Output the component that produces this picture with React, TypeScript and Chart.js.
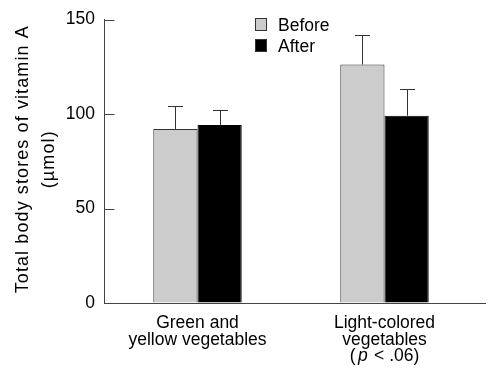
import React, { useEffect, useRef } from "react";
import { Chart, registerables } from "chart.js";

Chart.register(...registerables);

const categories: string[] = ["Green and yellow vegetables", "Light-colored vegetables"];
const labelLines: string[][] = [["Green and", "yellow vegetables"], ["Light-colored", "vegetables", "(p < .06)"]];
const seriesNames: string[] = ["Before", "After"];
const beforeValues: number[] = [92.1, 126.2];
const beforeErrors: number[] = [11.9, 15.4];
const afterValues: number[] = [94.2, 99.1];
const afterErrors: number[] = [7.7, 14.2];
const yTicks: number[] = [0, 50, 100, 150];
const yTitleLines: string[] = ["Total body stores of vitamin A", "(\u00b5mol)"];

const FONT = '"Liberation Sans", Arial, Helvetica, sans-serif';
const GRAY = "#cccccc";
const AXIS = "#444444";

const errors = [beforeErrors, afterErrors];

const customPlugin = {
  id: "custom",
  afterDatasetsDraw(chart: any) {
    const ctx: CanvasRenderingContext2D = chart.ctx;
    const y = chart.scales.y;
    const x = chart.scales.x;
    const area = chart.chartArea;
    ctx.save();
    // error bars
    ctx.strokeStyle = "#333333";
    ctx.lineWidth = 1;
    chart.data.datasets.forEach((ds: any, di: number) => {
      const meta = chart.getDatasetMeta(di);
      meta.data.forEach((el: any, i: number) => {
        const v = ds.data[i];
        const top = y.getPixelForValue(v + errors[di][i]);
        const cx = Math.round(el.x) + 0.5;
        ctx.beginPath();
        ctx.moveTo(cx, el.y);
        ctx.lineTo(cx, Math.round(top) + 0.5);
        ctx.moveTo(cx - 7.5, Math.round(top) + 0.5);
        ctx.lineTo(cx + 7.5, Math.round(top) + 0.5);
        ctx.stroke();
      });
    });
    // x axis line
    ctx.strokeStyle = AXIS;
    const by = Math.round(area.bottom) + 0.5;
    ctx.beginPath();
    ctx.moveTo(area.left, by);
    ctx.lineTo(area.right + 8, by);
    ctx.stroke();
    // inward y ticks
    const ax = Math.round(area.left) + 0.5;
    yTicks.forEach((t) => {
      const py = Math.round(y.getPixelForValue(t)) + 0.5;
      ctx.beginPath();
      ctx.moveTo(ax, py);
      ctx.lineTo(ax + 10, py);
      ctx.stroke();
    });
    // y title
    ctx.fillStyle = "#000";
    ctx.font = `18px ${FONT}`;
    (ctx as any).letterSpacing = "1.1px";
    ctx.textAlign = "center";
    ctx.textBaseline = "alphabetic";
    const cy = (area.top + area.bottom) / 2 - 2;
    const baselines = [28, 54];
    yTitleLines.forEach((line, i) => {
      ctx.save();
      ctx.translate(baselines[i], cy);
      ctx.rotate(-Math.PI / 2);
      ctx.fillText(line, 0, 0);
      ctx.restore();
    });
    (ctx as any).letterSpacing = "0px";
    // x labels
    const lineBase = [328, 344.5, 361];
    ctx.textAlign = "left";
    labelLines.forEach((lines, ci) => {
      const cx = x.getPixelForValue(ci);
      lines.forEach((line, li) => {
        const m = line.match(/^\((p)( < .*)$/);
        if (m) {
          const parts = [
            { t: "(", f: `17.5px ${FONT}`, gap: 2.5 },
            { t: "p", f: `italic 17.5px ${FONT}`, gap: 1.5 },
            { t: m[2], f: `17.5px ${FONT}`, gap: 0 },
          ];
          let total = 0;
          parts.forEach((p) => {
            ctx.font = p.f;
            total += ctx.measureText(p.t).width + p.gap;
          });
          let sx = cx - total / 2;
          parts.forEach((p) => {
            ctx.font = p.f;
            ctx.fillText(p.t, sx, lineBase[li]);
            sx += ctx.measureText(p.t).width + p.gap;
          });
        } else {
          ctx.font = `17.5px ${FONT}`;
          const w = ctx.measureText(line).width;
          ctx.fillText(line, cx - w / 2, lineBase[li]);
        }
      });
    });
    // legend
    const legendRows = [
      { name: seriesNames[0], fill: GRAY, top: 18.5 },
      { name: seriesNames[1], fill: "#000000", top: 39.5 },
    ];
    ctx.font = `17.5px ${FONT}`;
    legendRows.forEach((r) => {
      ctx.fillStyle = r.fill;
      ctx.fillRect(255.5, r.top, 11, 12);
      ctx.strokeStyle = "#333";
      ctx.strokeRect(255.5, r.top, 11, 12);
      ctx.fillStyle = "#000";
      ctx.fillText(r.name, 278, r.top + 12.5);
    });
    ctx.restore();
  },
};

export default function App() {
  const ref = useRef<HTMLCanvasElement>(null);
  useEffect(() => {
    if (!ref.current) return;
    const chart = new Chart(ref.current, {
      type: "bar",
      data: {
        labels: categories,
        datasets: [
          {
            label: seriesNames[0],
            data: beforeValues,
            backgroundColor: GRAY,
            borderColor: "#333333",
            borderWidth: 1,
            categoryPercentage: 0.473,
            barPercentage: 1,
          },
          {
            label: seriesNames[1],
            data: afterValues,
            backgroundColor: "#000000",
            borderColor: "#000000",
            borderWidth: 1,
            categoryPercentage: 0.473,
            barPercentage: 1,
          },
        ],
      },
      options: {
        responsive: false,
        animation: false,
        layout: { padding: { left: 0, right: 10, top: 17.5, bottom: 67 } },
        plugins: { legend: { display: false }, tooltip: { enabled: false } },
        scales: {
          x: { display: false },
          y: {
            min: 0,
            max: 150,
            afterBuildTicks: (s: any) => {
              s.ticks = yTicks.map((v) => ({ value: v }));
            },
            afterFit: (s: any) => {
              s.width = 104;
            },
            grid: { drawOnChartArea: false, drawTicks: false },
            border: { color: AXIS, width: 1 },
            ticks: {
              color: "#000",
              padding: 9,
              font: { family: FONT, size: 17.5 },
            },
          },
        },
      },
      plugins: [customPlugin],
    });
    return () => chart.destroy();
  }, []);
  return (
    <div style={{ position: "fixed", left: 0, top: 0, width: 488, height: 370, background: "#fff" }}>
      <canvas ref={ref} width={488} height={370} style={{ width: 488, height: 370 }} />
    </div>
  );
}
